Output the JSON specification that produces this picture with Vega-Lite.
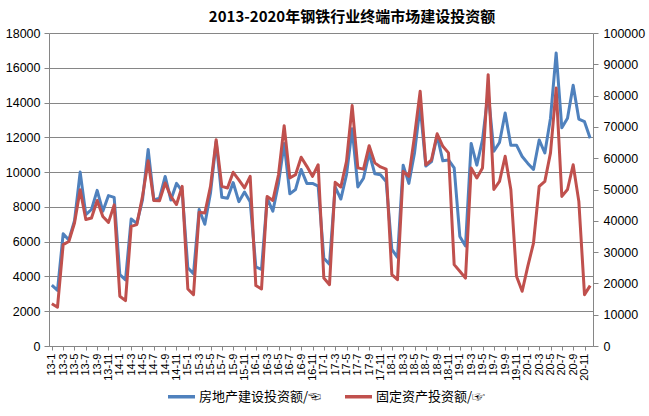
{
  "$schema": "https://vega.github.io/schema/vega-lite/v6.json",
  "width": 544,
  "height": 313,
  "autosize": {"type": "none"},
  "padding": {"left": 49, "top": 33, "right": 56, "bottom": 70},
  "background": "white",
  "title": {
    "text": "2013-2020年钢铁行业终端市场建设投资额",
    "font": "Noto Sans CJK SC",
    "fontSize": 15,
    "fontWeight": "bold",
    "color": "black",
    "anchor": "middle",
    "dx": 31,
    "offset": 2
  },
  "data": {
    "values": [
      {"m": "13-1", "re": 3500, "fa": 13500},
      {"m": "13-2", "re": 3200, "fa": 12400},
      {"m": "13-3", "re": 6450, "fa": 32400},
      {"m": "13-4", "re": 6100, "fa": 33400},
      {"m": "13-5", "re": 7200, "fa": 39300},
      {"m": "13-6", "re": 10000, "fa": 49900},
      {"m": "13-7", "re": 7550, "fa": 40400},
      {"m": "13-8", "re": 7850, "fa": 40900},
      {"m": "13-9", "re": 8950, "fa": 46500},
      {"m": "13-10", "re": 7750, "fa": 41400},
      {"m": "13-11", "re": 8650, "fa": 39500},
      {"m": "13-12", "re": 8550, "fa": 45100},
      {"m": "14-1", "re": 4100, "fa": 15900},
      {"m": "14-2", "re": 3800, "fa": 14500},
      {"m": "14-3", "re": 7300, "fa": 38200},
      {"m": "14-4", "re": 7050, "fa": 38800},
      {"m": "14-5", "re": 8400, "fa": 47800},
      {"m": "14-6", "re": 11300, "fa": 59200},
      {"m": "14-7", "re": 8400, "fa": 46500},
      {"m": "14-8", "re": 8500, "fa": 46400},
      {"m": "14-9", "re": 9750, "fa": 52100},
      {"m": "14-10", "re": 8400, "fa": 47800},
      {"m": "14-11", "re": 9350, "fa": 45200},
      {"m": "14-12", "re": 8900, "fa": 51000},
      {"m": "15-1", "re": 4500, "fa": 18200},
      {"m": "15-2", "re": 4150, "fa": 16400},
      {"m": "15-3", "re": 7850, "fa": 42700},
      {"m": "15-4", "re": 7000, "fa": 42500},
      {"m": "15-5", "re": 8800, "fa": 51000},
      {"m": "15-6", "re": 11750, "fa": 65900},
      {"m": "15-7", "re": 8550, "fa": 51000},
      {"m": "15-8", "re": 8500, "fa": 50500},
      {"m": "15-9", "re": 9400, "fa": 55500},
      {"m": "15-10", "re": 8300, "fa": 53100},
      {"m": "15-11", "re": 8850, "fa": 50500},
      {"m": "15-12", "re": 8300, "fa": 54200},
      {"m": "16-1", "re": 4550, "fa": 19300},
      {"m": "16-2", "re": 4400, "fa": 18200},
      {"m": "16-3", "re": 8500, "fa": 47800},
      {"m": "16-4", "re": 7750, "fa": 46500},
      {"m": "16-5", "re": 9350, "fa": 54700},
      {"m": "16-6", "re": 11650, "fa": 70400},
      {"m": "16-7", "re": 8750, "fa": 53700},
      {"m": "16-8", "re": 9000, "fa": 54700},
      {"m": "16-9", "re": 10150, "fa": 60300},
      {"m": "16-10", "re": 9350, "fa": 57400},
      {"m": "16-11", "re": 9350, "fa": 54200},
      {"m": "16-12", "re": 9200, "fa": 57900},
      {"m": "17-1", "re": 5050, "fa": 21700},
      {"m": "17-2", "re": 4700, "fa": 19600},
      {"m": "17-3", "re": 9150, "fa": 52300},
      {"m": "17-4", "re": 8450, "fa": 50800},
      {"m": "17-5", "re": 9850, "fa": 59000},
      {"m": "17-6", "re": 12500, "fa": 76800},
      {"m": "17-7", "re": 9150, "fa": 56900},
      {"m": "17-8", "re": 9650, "fa": 56500},
      {"m": "17-9", "re": 11100, "fa": 64000},
      {"m": "17-10", "re": 9900, "fa": 58500},
      {"m": "17-11", "re": 9850, "fa": 57200},
      {"m": "17-12", "re": 9450, "fa": 56500},
      {"m": "18-1", "re": 5550, "fa": 22800},
      {"m": "18-2", "re": 5100, "fa": 21200},
      {"m": "18-3", "re": 10400, "fa": 55800},
      {"m": "18-4", "re": 9350, "fa": 54200},
      {"m": "18-5", "re": 11100, "fa": 67000},
      {"m": "18-6", "re": 13800, "fa": 81400},
      {"m": "18-7", "re": 10350, "fa": 57900},
      {"m": "18-8", "re": 10600, "fa": 59500},
      {"m": "18-9", "re": 12100, "fa": 67800},
      {"m": "18-10", "re": 10650, "fa": 63800},
      {"m": "18-11", "re": 10700, "fa": 61700},
      {"m": "18-12", "re": 10250, "fa": 26000},
      {"m": "19-1", "re": 6300, "fa": 23900},
      {"m": "19-2", "re": 5750, "fa": 21700},
      {"m": "19-3", "re": 11650, "fa": 56900},
      {"m": "19-4", "re": 10400, "fa": 53700},
      {"m": "19-5", "re": 11850, "fa": 56900},
      {"m": "19-6", "re": 14600, "fa": 86700},
      {"m": "19-7", "re": 11200, "fa": 50000},
      {"m": "19-8", "re": 11700, "fa": 52600},
      {"m": "19-9", "re": 13400, "fa": 60600},
      {"m": "19-10", "re": 11550, "fa": 50000},
      {"m": "19-11", "re": 11550, "fa": 22300},
      {"m": "19-12", "re": 10900, "fa": 17500},
      {"m": "20-1", "re": 10500, "fa": 25500},
      {"m": "20-2", "re": 10150, "fa": 32900},
      {"m": "20-3", "re": 11850, "fa": 51000},
      {"m": "20-4", "re": 11100, "fa": 52600},
      {"m": "20-5", "re": 13100, "fa": 61700},
      {"m": "20-6", "re": 16850, "fa": 82400},
      {"m": "20-7", "re": 12550, "fa": 47800},
      {"m": "20-8", "re": 13100, "fa": 50000},
      {"m": "20-9", "re": 15000, "fa": 57900},
      {"m": "20-10", "re": 13050, "fa": 46200},
      {"m": "20-11", "re": 12900, "fa": 16400},
      {"m": "20-12", "re": 11950, "fa": 19300}
    ]
  },
  "encoding": {
    "x": {
      "field": "m",
      "type": "ordinal",
      "sort": null,
      "scale": {"type": "point", "padding": 0.5},
      "axis": {
        "title": null,
        "values": ["13-1","13-3","13-5","13-7","13-9","13-11","14-1","14-3","14-5","14-7","14-9","14-11","15-1","15-3","15-5","15-7","15-9","15-11","16-1","16-3","16-5","16-7","16-9","16-11","17-1","17-3","17-5","17-7","17-9","17-11","18-1","18-3","18-5","18-7","18-9","18-11","19-1","19-3","19-5","19-7","19-9","19-11","20-1","20-3","20-5","20-7","20-9","20-11"],
        "labelAngle": 270,
        "labelFont": "Liberation Sans",
        "labelFontSize": 11,
        "labelColor": "black",
        "labelPadding": 3,
        "labelOverlap": false,
        "domainColor": "#868686",
        "tickColor": "#868686",
        "tickSize": 4,
        "grid": false
      }
    }
  },
  "layer": [
    {
      "mark": {"type": "line", "strokeWidth": 3, "strokeJoin": "round"},
      "encoding": {
        "y": {
          "field": "re",
          "type": "quantitative",
          "scale": {"domain": [0, 18000], "nice": false},
          "axis": {
            "title": null,
            "orient": "left",
            "values": [0,2000,4000,6000,8000,10000,12000,14000,16000,18000],
            "format": "d",
            "labelFont": "Liberation Sans",
            "labelFontSize": 12.5,
            "labelColor": "black",
            "labelPadding": 4,
            "grid": true,
            "gridColor": "#868686",
            "gridWidth": 1,
            "domainColor": "#868686",
            "tickColor": "#868686",
            "tickSize": 5
          }
        },
        "color": {
          "datum": "房地产建设投资额/☜",
          "type": "nominal",
          "scale": {
            "domain": ["房地产建设投资额/☜", "固定资产投资额/☞"],
            "range": ["#4F81BD", "#C0504D"]
          },
          "legend": {
            "title": null,
            "orient": "none",
            "direction": "horizontal",
            "legendX": 117,
            "legendY": 348,
            "symbolType": "stroke",
            "symbolSize": 729,
            "symbolStrokeWidth": 3.5,
            "labelFont": "Noto Sans CJK SC",
            "labelFontSize": 13,
            "labelColor": "black",
            "labelOffset": 2,
            "columnPadding": 16
          }
        }
      }
    },
    {
      "mark": {"type": "line", "strokeWidth": 3, "strokeJoin": "round"},
      "encoding": {
        "y": {
          "field": "fa",
          "type": "quantitative",
          "scale": {"domain": [0, 100000], "nice": false},
          "axis": {
            "title": null,
            "orient": "right",
            "values": [0,10000,20000,30000,40000,50000,60000,70000,80000,90000,100000],
            "format": "d",
            "labelFont": "Liberation Sans",
            "labelFontSize": 12.5,
            "labelColor": "black",
            "labelPadding": 5,
            "grid": false,
            "domainColor": "#868686",
            "tickColor": "#868686",
            "tickSize": 5
          }
        },
        "color": {"datum": "固定资产投资额/☞", "type": "nominal"}
      }
    }
  ],
  "resolve": {"scale": {"y": "independent"}},
  "config": {
    "view": {"stroke": null}
  }
}
